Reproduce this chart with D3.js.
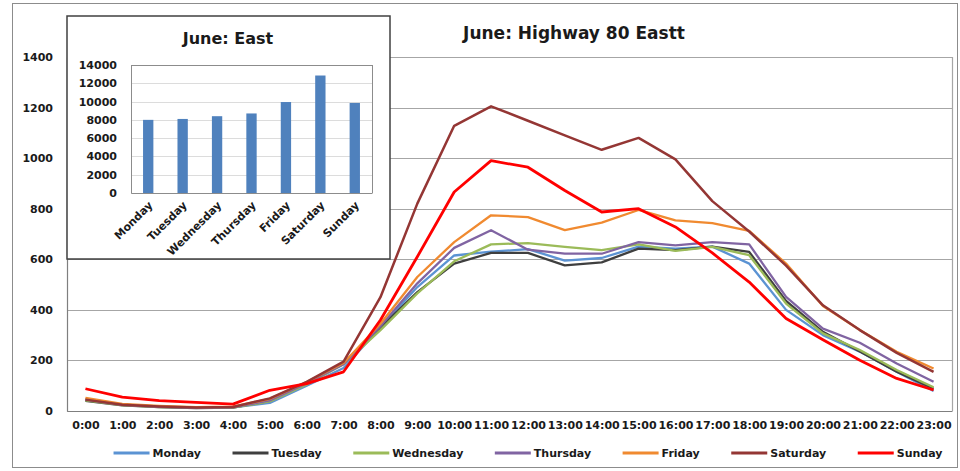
<!DOCTYPE html>
<html>
<head>
<meta charset="utf-8">
<script src="https://cdn.jsdelivr.net/npm/d3@7"></script>
<style>
  html, body { margin: 0; padding: 0; background: #fff; }
  svg { display: block; }
  text { font-family: "DejaVu Sans", sans-serif; font-weight: bold; fill: #1a1a1a; }
</style>
</head>
<body>
<svg id="chart" width="960" height="471"></svg>
<script>
// Hourly traffic counts, June, Highway 80 eastbound
const hours = ["0:00","1:00","2:00","3:00","4:00","5:00","6:00","7:00","8:00","9:00","10:00","11:00",
               "12:00","13:00","14:00","15:00","16:00","17:00","18:00","19:00","20:00","21:00","22:00","23:00"];
const days = ["Monday","Tuesday","Wednesday","Thursday","Friday","Saturday","Sunday"];

const monday    = [45, 25, 17, 13, 14, 32, 100, 170, 330, 490, 615, 630, 640, 595, 605, 650, 642, 650, 583, 400, 300, 235, 155, 79];
const tuesday   = [40, 22, 15, 11, 13, 40, 110, 190, 330, 470, 583, 625, 625, 576, 588, 642, 636, 650, 629, 435, 313, 235, 155, 88];
const wednesday = [42, 23, 15, 12, 13, 38, 105, 185, 320, 465, 592, 659, 664, 649, 636, 659, 633, 649, 616, 425, 307, 241, 162, 94];
const thursday  = [45, 24, 16, 12, 14, 42, 110, 185, 335, 505, 645, 715, 638, 622, 622, 668, 655, 668, 659, 451, 326, 270, 188, 116];
const friday    = [52, 28, 20, 15, 17, 48, 115, 190, 345, 530, 668, 774, 767, 715, 745, 795, 754, 743, 712, 583, 415, 320, 234, 168];
const saturday  = [45, 25, 18, 14, 16, 50, 115, 195, 450, 820, 1128, 1205, 1148, 1090, 1033, 1080, 995, 830, 710, 575, 418, 320, 230, 155];
const sunday    = [88, 55, 41, 34, 27, 82, 108, 155, 360, 610, 866, 990, 964, 872, 787, 800, 728, 625, 510, 366, 282, 201, 129, 83];

// Daily totals for the inset bar chart
const dailyTotals = [8000, 8100, 8400, 8700, 9950, 12850, 9850];

const mainTicks  = [0, 200, 400, 600, 800, 1000, 1200, 1400];
const insetTicks = [0, 2000, 4000, 6000, 8000, 10000, 12000, 14000];

const series = [monday, tuesday, wednesday, thursday, friday, saturday, sunday];
const colors = ["#5B93D3", "#3F3F3F", "#9BBB59", "#8064A2", "#F08A30", "#943634", "#FF0000"];
const widths = [2.3, 2.3, 2.3, 2.3, 2.3, 2.5, 2.8];

const svg = d3.select("#chart");

// outer chart frame
svg.append("rect").attr("x", 12.5).attr("y", 3.5).attr("width", 945).attr("height", 464)
  .attr("fill", "#fff").attr("stroke", "#8c8c8c").attr("stroke-width", 1);

// ---- main line chart ----
const plot = { left: 67, right: 952, top: 57, bottom: 411 };
const x = d3.scalePoint().domain(hours).range([plot.left, plot.right]).padding(0.5);
const y = d3.scaleLinear().domain([0, 1400]).range([plot.bottom, plot.top]);

// gridlines
svg.append("g").selectAll("line").data(mainTicks).join("line")
  .attr("x1", plot.left).attr("x2", plot.right)
  .attr("y1", d => Math.round(y(d)) + 0.5).attr("y2", d => Math.round(y(d)) + 0.5)
  .attr("stroke", "#a6a6a6").attr("stroke-width", 1.2);

// right border of plot area
svg.append("line").attr("x1", plot.right + 0.5).attr("x2", plot.right + 0.5)
  .attr("y1", plot.top).attr("y2", plot.bottom).attr("stroke", "#a6a6a6").attr("stroke-width", 1.2);

// y axis
const yAxis = svg.append("g").attr("transform", `translate(${plot.left},0)`)
  .call(d3.axisLeft(y).tickValues(mainTicks).tickSize(0).tickPadding(14).tickFormat(d3.format("d")));
yAxis.select(".domain").attr("stroke", "#7f7f7f").attr("stroke-width", 1.2);
yAxis.selectAll("text").style("font-size", "11px").style("font-family", "DejaVu Sans").style("font-weight", "bold").attr("fill", "#1a1a1a");

// x axis
const xAxis = svg.append("g").attr("transform", `translate(0,${plot.bottom})`)
  .call(d3.axisBottom(x).tickSize(0).tickPadding(10));
xAxis.select(".domain").attr("stroke", "#7f7f7f").attr("stroke-width", 1.2);
xAxis.selectAll("text").style("font-size", "11px").style("font-family", "DejaVu Sans").style("font-weight", "bold").attr("fill", "#1a1a1a");

// lines
const line = d3.line().x((d, i) => x(hours[i])).y(d => y(d));
svg.append("g").selectAll("path").data(series).join("path")
  .attr("d", d => line(d))
  .attr("fill", "none")
  .attr("stroke", (d, i) => colors[i])
  .attr("stroke-width", (d, i) => widths[i])
  .attr("stroke-linejoin", "round");

// title
svg.append("text").attr("x", 574).attr("y", 39).attr("text-anchor", "middle")
  .style("font-size", "17px").text("June: Highway 80 Eastt");

// legend
const legend = svg.append("g").attr("transform", "translate(0,453)");
const items = legend.selectAll("g").data(days).join("g");
items.append("line").attr("x1", 0).attr("x2", 36).attr("y1", 0).attr("y2", 0)
  .attr("stroke", (d, i) => colors[i]).attr("stroke-width", 2.8);
items.append("text").attr("x", 39).attr("y", 4).style("font-size", "11px").text(d => d);
let cursor = 0;
const gap = 31.5;
const offsets = [];
items.each(function () {
  offsets.push(cursor);
  const w = 39 + this.querySelector("text").getComputedTextLength();
  cursor += w + gap;
});
const legendWidth = cursor - gap;
const legendStart = 528 - legendWidth / 2;
items.attr("transform", (d, i) => `translate(${legendStart + offsets[i]},0)`);

// ---- inset bar chart ----
svg.append("rect").attr("x", 67).attr("y", 16).attr("width", 323).attr("height", 243)
  .attr("fill", "#fff").attr("stroke", "#404040").attr("stroke-width", 1.5);

const ip = { left: 131, right: 372, top: 65, bottom: 193 };
const bx = d3.scaleBand().domain(days).range([ip.left, ip.right]).paddingInner(0.7).paddingOuter(0.35);
const by = d3.scaleLinear().domain([0, 14000]).range([ip.bottom, ip.top]);

svg.append("g").selectAll("line").data(insetTicks).join("line")
  .attr("x1", ip.left).attr("x2", ip.right)
  .attr("y1", d => Math.round(by(d)) + 0.5).attr("y2", d => Math.round(by(d)) + 0.5)
  .attr("stroke", d => d === 14000 ? "#8c8c8c" : "#dcdcdc").attr("stroke-width", 1);
svg.append("line").attr("x1", ip.right + 0.5).attr("x2", ip.right + 0.5)
  .attr("y1", ip.top).attr("y2", ip.bottom).attr("stroke", "#8c8c8c");

const iy = svg.append("g").attr("transform", `translate(${ip.left},0)`)
  .call(d3.axisLeft(by).tickValues(insetTicks).tickSize(0).tickPadding(14).tickFormat(d3.format("d")));
iy.select(".domain").attr("stroke", "#8c8c8c");
iy.selectAll("text").style("font-size", "11px").style("font-family", "DejaVu Sans").style("font-weight", "bold").attr("fill", "#1a1a1a");

const ix = svg.append("g").attr("transform", `translate(0,${ip.bottom})`)
  .call(d3.axisBottom(bx).tickSize(0).tickPadding(0));
ix.select(".domain").attr("stroke", "#8c8c8c");
ix.selectAll("text")
  .style("font-size", "11px").style("font-family", "DejaVu Sans").style("font-weight", "bold").attr("fill", "#1a1a1a")
  .attr("text-anchor", "end").attr("dy", null).attr("y", 0)
  .attr("transform", "translate(5,13) rotate(-45)");

svg.append("g").selectAll("rect").data(dailyTotals).join("rect")
  .attr("x", (d, i) => bx(days[i])).attr("width", bx.bandwidth())
  .attr("y", d => by(d)).attr("height", d => ip.bottom - by(d))
  .attr("fill", "#4F81BD");

svg.append("text").attr("x", 228).attr("y", 44).attr("text-anchor", "middle")
  .style("font-size", "16px").text("June: East");
</script>
</body>
</html>
